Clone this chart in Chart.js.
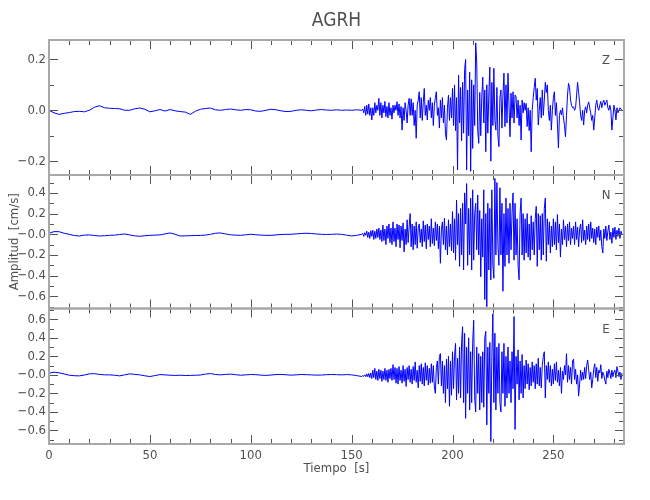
<!DOCTYPE html>
<html>
<head>
<meta charset="utf-8">
<title>AGRH</title>
<script src="https://cdn.jsdelivr.net/npm/chart.js@4.4.1/dist/chart.umd.min.js"></script>
<style>
  body { margin: 0; background: #fff; }
</style>
</head>
<body>
<canvas id="seis" width="650" height="500"></canvas>
<script>
// station + components
var stationName = 'AGRH';
var panelNames = ['Z', 'N', 'E'];
var panelIds = ['yZ', 'yN', 'yE'];

// y ranges of each panel [cm/s]
var rangeZ = [-0.2545, 0.2765];
var rangeN = [-0.717, 0.573];
var rangeE = [-0.747, 0.717];
var timeRange = [0, 285];

// sampling: quiet part every 2.5 s from 0 s, active part every 0.5 s from 155 s
var quietStep = 2.5;
var activeStart = 155;
var activeStep = 0.5;

// Z component
var zQuiet = [0.0, -0.01, -0.016, -0.012, -0.009, -0.005, -0.004, -0.006, 0.0, 0.012,
  0.018, 0.01, 0.008, 0.007, 0.006, 0.0, 0.0, 0.006, 0.009, 0.004,
  -0.006, -0.002, 0.003, -0.003, 0.003, -0.002, -0.005, -0.007, -0.016, -0.004,
  0.004, 0.007, 0.009, 0.002, 0.0, 0.003, 0.005, 0.002, 0.0, 0.003,
  0.002, -0.003, -0.004, 0.0, 0.004, 0.002, -0.002, -0.005, -0.004, 0.0,
  0.002, 0.0, -0.002, 0.001, 0.003, 0.001, 0.0, 0.002, 0.0, 0.001,
  0.0, 0.002];
var zActive = [
  0.0, 0.005, -0.01, 0.015, -0.02, 0.02, -0.015, 0.025, -0.02, 0.01,      // 155
  -0.038, 0.01, -0.02, 0.03, -0.01, 0.02, 0.0, 0.047, -0.02, 0.03,       // 160
  -0.03, 0.02, -0.01, 0.035, -0.025, 0.015, -0.03, 0.03, -0.02, 0.01,    // 165
  -0.035, 0.02, -0.01, 0.02, 0.0, 0.034, -0.02, 0.025, -0.03, 0.015,     // 170
  -0.078, 0.01, -0.04, 0.03, 0.0, -0.05, 0.02, 0.047, -0.02, 0.045,      // 175
  -0.02, 0.03, -0.06, 0.0, -0.11, 0.02, 0.04, 0.073, -0.03, 0.05,        // 180
  -0.04, 0.03, 0.086, -0.02, 0.02, -0.038, 0.04, 0.0, 0.05, -0.03,       // 185
  0.03, -0.06, 0.02, 0.05, 0.073, -0.02, 0.01, -0.07, 0.04, -0.03,       // 190
  0.05, -0.05, 0.02, -0.09, -0.117, 0.01, 0.06, -0.04, 0.05, -0.03,      // 195
  0.086, -0.06, 0.1, -0.08, 0.05, -0.235, 0.139, -0.05, 0.09, -0.12,     // 200
  0.11, -0.09, 0.16, 0.2, -0.235, 0.08, -0.1, 0.15, -0.24, 0.12,         // 205
  -0.15, 0.1, -0.06, 0.265, 0.19, -0.08, -0.13, 0.07, -0.1, 0.05,        // 210
  0.13, -0.05, 0.08, -0.163, 0.1, -0.09, 0.06, 0.17, -0.2, 0.11,         // 215
  -0.06, 0.165, -0.04, -0.078, 0.09, -0.1, -0.143, 0.05, 0.08, -0.07,    // 220
  0.06, 0.146, -0.064, 0.1, -0.05, 0.146, 0.02, -0.104, 0.067, -0.03,    // 225
  0.073, -0.05, 0.06, 0.053, -0.03, 0.04, -0.06, 0.02, -0.117, 0.04,     // 230
  -0.01, 0.03, 0.0, 0.027, -0.064, 0.01, -0.08, 0.0, -0.163, 0.0,        // 235
  0.05, 0.09, 0.126, 0.04, 0.086, -0.058, 0.0, 0.05, -0.03, 0.08,        // 240
  -0.02, 0.04, 0.11, 0.07, 0.1, 0.0, -0.04, 0.02, -0.078, 0.0,           // 245
  0.05, 0.073, -0.02, 0.03, -0.05, -0.148, -0.02, 0.0, -0.018, 0.01,     // 250
  -0.03, -0.06, -0.104, -0.02, 0.06, 0.106, 0.09, 0.04, 0.02, 0.01,      // 255
  0.014, 0.0, 0.01, 0.06, 0.11, 0.07, 0.03, -0.02, -0.04, 0.0,           // 260
  -0.058, 0.0, 0.014, -0.01, 0.02, 0.033, 0.01, -0.01, -0.04, -0.02,     // 265
  -0.078, -0.03, 0.02, 0.04, 0.01, 0.0, 0.02, 0.035, 0.01, 0.03,         // 270
  0.04, 0.02, 0.03, 0.04, 0.01, 0.0, 0.02, 0.0, -0.078, -0.03,           // 275
  0.02, 0.0, -0.038, 0.01, -0.01, 0.0, 0.01, 0.005, 0.0                  // 280
];

// N component
var nQuiet = [0.01, 0.026, 0.025, 0.01, 0.0, -0.012, -0.016, -0.008, -0.006, -0.012,
  -0.016, -0.014, -0.01, -0.008, -0.002, 0.003, -0.006, -0.015, -0.019, -0.014,
  -0.01, -0.008, -0.006, 0.004, 0.013, 0.0, -0.016, -0.015, -0.013, -0.012,
  -0.011, -0.008, 0.0, 0.01, 0.013, 0.004, -0.005, -0.008, -0.01, -0.005,
  0.0, -0.004, -0.008, -0.01, -0.01, -0.006, -0.002, 0.0, 0.0, 0.004,
  0.008, 0.01, 0.008, 0.003, 0.0, -0.002, 0.0, 0.002, 0.0, -0.008,
  -0.016, -0.01];
var nActive = [
  0.0, 0.01, -0.02, 0.015, -0.01, 0.03, -0.03, 0.02, -0.04, 0.035,       // 155
  -0.02, 0.04, -0.05, 0.03, -0.04, 0.05, -0.03, 0.06, -0.05, 0.04,       // 160
  -0.07, 0.09, -0.06, 0.05, -0.1, 0.08, -0.04, 0.1, -0.08, 0.06,         // 165
  -0.1, 0.12, -0.07, 0.06, -0.12, 0.1, -0.05, 0.09, -0.13, 0.08,         // 170
  -0.06, 0.11, -0.17, 0.05, -0.1, 0.14, -0.08, 0.07, 0.2, -0.12,         // 175
  0.1, -0.15, 0.08, -0.1, 0.12, -0.135, 0.06, 0.1, -0.08, 0.05,          // 180
  -0.12, 0.13, -0.07, 0.09, -0.14, 0.1, -0.05, 0.08, -0.12, 0.15,        // 185
  -0.09, 0.06, -0.11, 0.12, -0.06, 0.1, -0.14, 0.08, -0.28, 0.05,        // 190
  0.12, -0.1, 0.155, -0.15, 0.08, -0.2, 0.14, -0.12, 0.1, -0.16,         // 195
  0.22, -0.18, 0.15, -0.25, 0.33, -0.1, 0.2, -0.31, 0.25, -0.2,          // 200
  0.3, -0.345, 0.4, 0.1, 0.49, -0.3, 0.25, -0.2, 0.35, -0.345,           // 205
  0.43, -0.25, 0.2, 0.3, -0.15, 0.38, -0.2, 0.23, -0.41, 0.15,           // 210
  -0.22, 0.43, -0.63, 0.2, -0.7, 0.3, -0.345, 0.25, -0.44, 0.43,         // 215
  -0.3, -0.425, 0.54, -0.2, 0.5, -0.1, -0.3, 0.45, -0.2, 0.3,            // 220
  -0.55, 0.2, -0.31, 0.35, -0.2, 0.25, -0.28, 0.3, -0.15, 0.2,           // 225
  0.4, -0.25, 0.3, -0.2, 0.15, -0.3, -0.44, 0.2, 0.35, -0.2,             // 230
  0.2, -0.25, 0.15, -0.18, 0.2, -0.22, 0.1, -0.25, 0.18, -0.15,          // 235
  0.12, -0.2, 0.15, 0.27, -0.31, 0.2, -0.15, 0.18, -0.25, 0.2,           // 240
  -0.2, 0.25, 0.35, -0.26, 0.15, -0.1, 0.12, -0.18, 0.08, -0.12,         // 245
  0.15, -0.1, 0.12, -0.15, 0.19, -0.08, 0.1, -0.22, 0.05, -0.1,          // 250
  0.14, -0.05, 0.08, -0.12, 0.1, -0.06, 0.12, -0.1, 0.06, -0.04,         // 255
  0.08, -0.1, 0.12, -0.05, 0.07, -0.12, 0.05, 0.1, -0.08, 0.14,          // 260
  -0.06, 0.04, -0.1, 0.08, -0.05, 0.1, -0.07, 0.12, -0.04, 0.06,         // 265
  -0.08, 0.05, -0.1, 0.07, -0.03, 0.08, -0.06, 0.04, -0.12, -0.18,       // 270
  0.05, -0.04, 0.08, -0.06, 0.03, 0.09, -0.05, 0.02, -0.087, 0.06,       // 275
  -0.03, 0.07, -0.05, 0.04, -0.02, 0.06, -0.04, 0.03, 0.0                // 280
];

// E component
var eQuiet = [0.018, 0.029, 0.022, 0.01, -0.004, -0.009, -0.011, -0.002, 0.011, 0.013,
  0.005, 0.0, 0.0, -0.004, -0.011, 0.0, 0.011, 0.005, 0.0, -0.01,
  -0.018, -0.008, 0.003, 0.0, -0.004, -0.006, -0.004, -0.007, -0.006, -0.004,
  -0.002, 0.008, 0.014, 0.004, 0.0, 0.005, 0.008, 0.002, -0.004, 0.0,
  0.004, 0.002, -0.003, -0.006, -0.002, 0.003, 0.005, 0.001, -0.003, 0.0,
  0.004, 0.002, 0.0, -0.003, -0.002, 0.002, 0.004, 0.002, 0.0, 0.003,
  0.0, -0.008];
var eActive = [
  -0.018, -0.01, -0.015, 0.0, -0.02, 0.01, -0.02, 0.015, -0.03, 0.02,    // 155
  -0.04, 0.05, -0.03, 0.07, -0.05, 0.04, -0.06, 0.06, -0.04, 0.05,       // 160
  -0.07, 0.04, -0.05, 0.07, -0.06, 0.05, -0.08, 0.06, -0.04, 0.07,       // 165
  -0.06, 0.11, -0.05, 0.08, -0.09, 0.07, -0.1, 0.09, -0.06, 0.05,        // 170
  -0.09, 0.1, -0.07, 0.06, -0.125, 0.08, -0.05, 0.1, -0.08, 0.06,        // 175
  -0.1, 0.09, -0.06, 0.14, -0.08, 0.05, -0.14, 0.1, -0.07, 0.12,         // 180
  -0.1, 0.08, -0.12, 0.13, -0.06, 0.1, -0.11, 0.07, -0.09, 0.12,         // 185
  -0.08, 0.1, -0.13, -0.2, 0.08, 0.15, -0.1, 0.2, 0.23, -0.12,           // 190
  0.15, -0.2, 0.1, -0.3, 0.17, -0.15, 0.2, -0.34, 0.15, -0.22,           // 195
  0.25, -0.15, 0.2, 0.34, -0.27, 0.18, -0.2, 0.3, -0.25, 0.35,           // 200
  0.52, -0.3, 0.45, -0.47, 0.3, -0.2, 0.4, -0.38, 0.25, -0.3,            // 205
  0.35, 0.59, -0.25, -0.4, 0.3, -0.2, 0.23, -0.38, 0.2, -0.3,            // 210
  0.25, -0.35, 0.4, 0.47, -0.54, 0.3, -0.2, 0.35, -0.72, 0.2,            // 215
  0.66, -0.3, 0.45, -0.38, 0.3, -0.2, 0.34, -0.3, -0.4, 0.25,            // 220
  -0.2, 0.34, -0.34, 0.2, -0.25, 0.3, -0.2, 0.15, -0.3, 0.25,            // 225
  -0.15, 0.63, -0.59, 0.2, -0.1, 0.27, -0.27, 0.15, -0.2, 0.22,          // 230
  -0.25, 0.1, -0.15, 0.16, -0.1, 0.12, -0.16, 0.08, -0.12, 0.14,         // 235
  -0.08, 0.1, -0.15, 0.12, -0.1, 0.18, -0.12, 0.08, -0.14, 0.1,          // 240
  0.2, 0.25, -0.25, 0.1, -0.05, 0.14, -0.08, 0.1, -0.12, 0.06,           // 245
  -0.1, 0.12, -0.06, 0.14, -0.08, 0.05, -0.12, 0.08, -0.2, 0.04,         // 250
  -0.05, 0.1, 0.0, 0.23, -0.08, 0.1, -0.05, 0.08, -0.1, 0.15,            // 255
  0.17, -0.05, 0.06, -0.1, 0.0, -0.23, -0.1, 0.05, -0.06, 0.03,          // 260
  -0.05, 0.08, -0.04, 0.1, 0.16, 0.05, -0.05, 0.03, -0.14, -0.05,        // 265
  0.06, 0.12, -0.03, 0.08, -0.07, 0.05, 0.02, 0.11, -0.04, 0.03,         // 270
  0.0, -0.06, -0.1, 0.04, -0.03, 0.06, 0.02, -0.04, 0.05, -0.02,         // 275
  0.03, 0.05, -0.03, 0.09, 0.04, -0.02, 0.03, -0.05, 0.02                // 280
];

var fontFam = "'Liberation Sans Narrow', 'DejaVu Sans Condensed', sans-serif";
var textColor = '#505050';

function toPoints(quiet, active) {
  var pts = [];
  quiet.forEach(function (v, i) { pts.push({ x: i * quietStep, y: v }); });
  active.forEach(function (v, i) { pts.push({ x: activeStart + i * activeStep, y: v }); });
  return pts;
}

function yLabel(signedZero) {
  return function (value) {
    var tenths = Math.round(value * 10);
    if (tenths % 2 !== 0) return '';
    if (tenths === 0) return signedZero ? '\u22120.0' : '0.0';
    return (tenths < 0 ? '\u2212' : '') + (Math.abs(tenths) / 10).toFixed(1);
  };
}

function yAxis(range, weight, stackWeight, signedZero) {
  return {
    type: 'linear',
    position: 'left',
    stack: 'panels',
    stackWeight: stackWeight,
    weight: weight,
    offset: false,
    min: range[0],
    max: range[1],
    grid: { display: false, drawTicks: false },
    border: { display: false },
    ticks: {
      stepSize: 0.1,
      includeBounds: false,
      autoSkip: false,
      padding: 3,
      color: textColor,
      font: { family: fontFam, size: 13 },
      callback: yLabel(signedZero)
    },
    afterFit: function (scale) { scale.width = 49; }
  };
}

// frames, inward ticks and component letters
var panelFrames = {
  id: 'panelFrames',
  afterDatasetsDraw: function (chart) {
    var ctx = chart.ctx;
    var xs = chart.scales.x;
    var left = chart.chartArea.left;
    var right = chart.chartArea.right;
    ctx.save();
    panelIds.forEach(function (id, p) {
      var ys = chart.scales[id];
      var top = ys.top, bottom = ys.bottom;
      ctx.strokeStyle = '#555';
      ctx.lineWidth = 1;
      ctx.beginPath();
      xs.ticks.forEach(function (t) {
        var px = Math.round(xs.getPixelForValue(t.value)) + 0.5;
        var len = t.value % 50 === 0 ? 9 : 5;
        ctx.moveTo(px, top); ctx.lineTo(px, top + len);
        ctx.moveTo(px, bottom); ctx.lineTo(px, bottom - len);
      });
      ys.ticks.forEach(function (t) {
        var py = Math.round(ys.getPixelForValue(t.value)) + 0.5;
        var len = Math.round(t.value * 10) % 2 === 0 ? 9 : 5;
        ctx.moveTo(left, py); ctx.lineTo(left + len, py);
        ctx.moveTo(right, py); ctx.lineTo(right - len, py);
      });
      ctx.stroke();
      ctx.strokeStyle = '#a8a8a8';
      ctx.lineWidth = 2;
      ctx.strokeRect(left, top, right - left, bottom - top);
      ctx.fillStyle = textColor;
      ctx.font = '13px ' + fontFam;
      ctx.textAlign = 'center';
      ctx.textBaseline = 'middle';
      ctx.fillText(panelNames[p], right - 18, top + 21);
    });
    ctx.restore();
  }
};

var traceStyle = { borderColor: '#0000ff', borderWidth: 1, pointRadius: 0, tension: 0, fill: false };

new Chart(document.getElementById('seis').getContext('2d'), {
  type: 'line',
  data: {
    datasets: [
      Object.assign({ label: 'Z', data: toPoints(zQuiet, zActive), yAxisID: 'yZ' }, traceStyle),
      Object.assign({ label: 'N', data: toPoints(nQuiet, nActive), yAxisID: 'yN' }, traceStyle),
      Object.assign({ label: 'E', data: toPoints(eQuiet, eActive), yAxisID: 'yE' }, traceStyle)
    ]
  },
  options: {
    responsive: false,
    animation: false,
    layout: { padding: { top: 0, left: 0, right: 26, bottom: 0 } },
    plugins: {
      legend: { display: false },
      tooltip: { enabled: false },
      title: {
        display: true,
        text: stationName,
        fullSize: false,
        color: textColor,
        font: { family: fontFam, size: 19, weight: 'normal' },
        padding: { top: 9.6, bottom: 7.6 }
      }
    },
    scales: {
      x: {
        type: 'linear',
        position: 'bottom',
        min: timeRange[0],
        max: timeRange[1],
        grid: { display: false, drawTicks: false },
        border: { display: false },
        ticks: {
          stepSize: 10,
          includeBounds: false,
          autoSkip: false,
          maxRotation: 0,
          padding: 4,
          color: textColor,
          font: { family: fontFam, size: 13 },
          callback: function (v) { return v % 50 === 0 ? String(v) : ''; }
        },
        title: {
          display: true,
          text: 'Tiempo  [s]',
          color: textColor,
          font: { family: fontFam, size: 13 },
          padding: { top: 0, bottom: 24 }
        },
        afterFit: function (scale) { scale.height = 56; }
      },
      yZ: yAxis(rangeZ, 3, 135, false),
      yN: Object.assign(yAxis(rangeN, 2, 133.5, true), {
        title: {
          display: true,
          text: 'Amplitud  [cm/s]',
          color: textColor,
          font: { family: fontFam, size: 13 },
          padding: { top: 7, bottom: 0 }
        }
      }),
      yE: yAxis(rangeE, 1, 135.5, true)
    }
  },
  plugins: [panelFrames]
});
</script>
</body>
</html>
